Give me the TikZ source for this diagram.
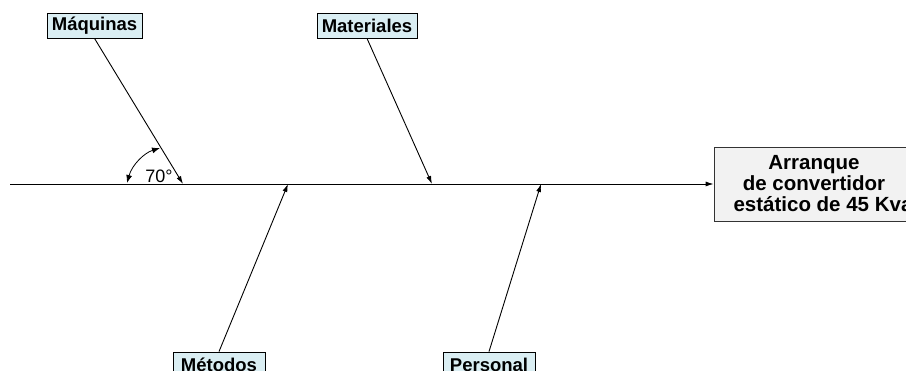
\documentclass[tikz,border=0pt]{standalone}
\usepackage{fontspec}
\setmainfont{Liberation Sans}
\usetikzlibrary{arrows.meta}
\definecolor{labfill}{HTML}{DAEEF3}
\definecolor{boxfill}{HTML}{F2F2F2}
\begin{document}
\begin{tikzpicture}[x=1pt,y=-1pt,
  lab/.style={draw=black, line width=0.8pt, fill=labfill, minimum height=25pt, inner sep=0pt,
    font=\bfseries\fontsize{18.5}{20}\selectfont},
  bone/.style={line width=0.9pt, -{Latex[length=8pt,width=5pt]}},
  effect/.style={draw=black!80, line width=0.8pt, fill=boxfill, minimum width=200pt, minimum height=74pt,
    inner sep=0pt, align=center, font=\bfseries\fontsize{20.5}{21}\selectfont}]
\useasboundingbox (0,0) rectangle (906,371);
\clip (0,0) rectangle (906,371);
% effect box
\node[effect] (eff) at (814,184) {Arranque\\de convertidor\\\hspace*{18pt}estático de 45 Kva};
% spine
\coordinate (tail) at (10,184);
\draw[bone] (tail) -- (eff.west);
% spine points
\coordinate (p1) at (183,184);
\coordinate (p2) at (432,184);
\coordinate (p3) at (288,184);
\coordinate (p4) at (541,184);
% labels
\node[lab, minimum width=95pt] (maq) at (94.5,25.5) {Máquinas};
\node[lab, minimum width=100pt] (mat) at (367,25.5) {Materiales};
\node[lab, minimum width=92pt] (met) at (219,364.5) {Métodos};
\node[lab, minimum width=92pt] (per) at (489,364.5) {Personal};
% bones
\draw[bone] (maq.south) -- (p1);
\draw[bone] (mat.south) -- (p2);
\draw[bone] (met.north) -- (p3);
\draw[bone] (per.north) -- (p4);
% angle
\coordinate (a1) at (127,183);
\coordinate (a2) at (160,148);
\draw[line width=0.8pt, {Latex[length=8pt,width=6pt]}-{Latex[length=8pt,width=6pt]}]
  (a1) .. controls (132,165) and (144,153) .. (a2);
\node[font=\fontsize{18}{20}\selectfont, inner sep=0pt] (ang) at (159,176) {70°};
\end{tikzpicture}
\end{document}
